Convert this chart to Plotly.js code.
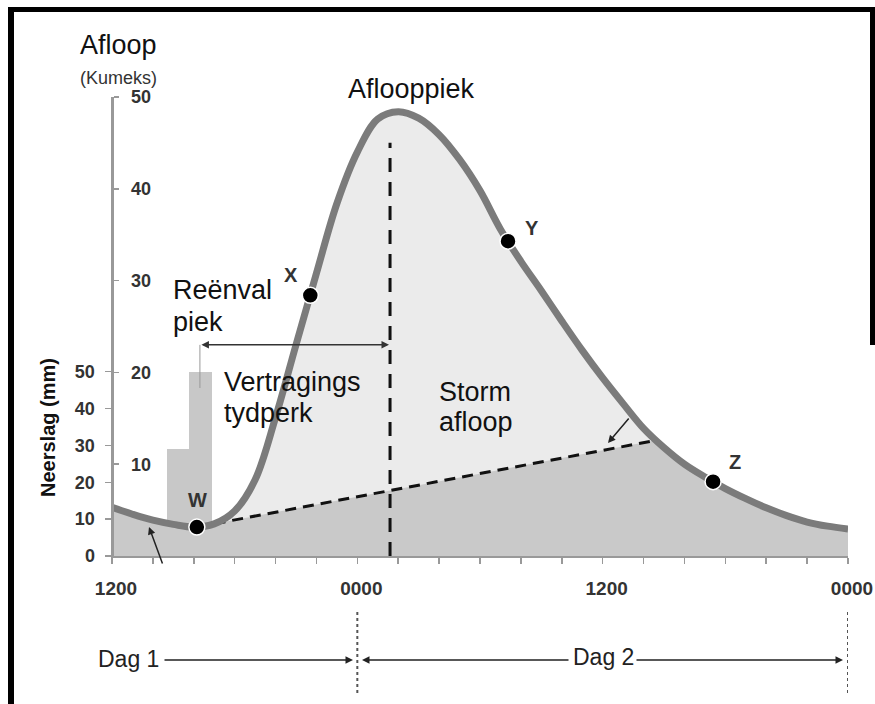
<!DOCTYPE html>
<html>
<head>
<meta charset="utf-8">
<script src="https://cdn.plot.ly/plotly-3.0.1.min.js"></script>
<style>html,body{margin:0;padding:0;background:#fff;}#chart{width:875px;height:704px;}</style>
</head>
<body>
<div id="chart"></div>
<script>
// ---- data (hours after 1200 on day 1; runoff in kumeks, rainfall in mm) ----
const hours = [0, 1, 2, 3, 4, 5, 6, 7, 8, 9, 10, 11, 12, 13, 14, 15, 16, 17, 18,
               19, 20, 21, 22, 23, 24, 25, 26, 27, 28, 29, 30, 31, 32, 33, 34, 35, 36];
const flow  = [5.3, 4.55, 3.9, 3.45, 3.15, 3.5, 4.9, 8.3, 15.1, 23.0, 30.8, 38.4, 44.0, 47.6, 48.4, 47.7, 45.9, 43.2, 39.8,
               35.6, 32.1, 28.9, 25.6, 22.4, 19.4, 16.6, 13.9, 11.8, 10.0, 8.6, 7.35, 6.25, 5.25, 4.4, 3.7, 3.25, 2.95];
const pointNames = ['W', 'X', 'Y', 'Z'];
const pointHours = [4.15, 9.7, 19.37, 29.4];
const pointFlow  = [3.15, 28.4, 34.3, 8.1];
const baseHours = [4.15, 26.6];
const baseFlow  = [3.15, 12.6];
const lagHours  = [4.3, 13.6];      // rainfall peak -> runoff peak
const rainStart = [2.7, 3.75];
const rainEnd   = [3.75, 4.9];
const rainMm    = [29, 50];
const xTickVals = [0, 2, 4, 6, 8, 10, 12, 14, 16, 18, 20, 22, 24, 26, 28, 30, 32, 34, 36];
const xTickText = ['1200', '', '', '', '', '', '0000', '', '', '', '', '', '1200', '', '', '', '', '', '0000'];
const dayBounds = [12, 36];
const flowTicks = [10, 20, 30, 40, 50];
const rainTicks = [0, 10, 20, 30, 40, 50];

// ---- derived ----
const peakFlow = Math.max.apply(null, flow);
const rainMid = rainStart.map((s, i) => (s + rainEnd[i]) / 2);
const rainWidth = rainStart.map((s, i) => rainEnd[i] - s);
const darkX = [], darkY = [];
hours.forEach((h, i) => { if (h < baseHours[0]) { darkX.push(h); darkY.push(flow[i]); } });
baseHours.forEach((h, i) => { darkX.push(h); darkY.push(baseFlow[i]); });
hours.forEach((h, i) => { if (h > baseHours[1]) { darkX.push(h); darkY.push(flow[i]); } });

// ---- geometry helpers (pixels -> paper) ----
const L = 112, T = 97, PW = 736, PH = 459;
const PX = p => (p - L) / PW;
const PY = p => (T + PH - p) / PH;
const FONT = 'Arial, "Liberation Sans", sans-serif';

const traces = [
  { type: 'bar', x: rainMid, y: rainMm, width: rainWidth, yaxis: 'y', xaxis: 'x',
    marker: { color: '#c8c8c8', line: { width: 0 } }, hoverinfo: 'skip' },
  { type: 'scatter', mode: 'lines', x: hours, y: flow, yaxis: 'y2', fill: 'tozeroy',
    fillcolor: '#ebebeb', line: { width: 0, shape: 'spline', smoothing: 1 }, hoverinfo: 'skip' },
  { type: 'scatter', mode: 'lines', x: darkX, y: darkY, yaxis: 'y2', fill: 'tozeroy',
    fillcolor: '#c9c9c9', line: { width: 0 }, hoverinfo: 'skip' },
  { type: 'scatter', mode: 'lines', x: baseHours, y: baseFlow, yaxis: 'y2',
    line: { color: '#111', width: 3, dash: '11px,7px' }, hoverinfo: 'skip' },
  { type: 'scatter', mode: 'lines', x: [lagHours[1], lagHours[1]], y: [0, peakFlow * 0.93], yaxis: 'y2',
    line: { color: '#111', width: 3, dash: '14px,10px' }, hoverinfo: 'skip' },
  { type: 'scatter', mode: 'lines', x: hours, y: flow, yaxis: 'y2',
    line: { color: '#7b7b7b', width: 7, shape: 'spline', smoothing: 1 }, hoverinfo: 'skip' },
  { type: 'scatter', mode: 'markers', x: pointHours, y: pointFlow, yaxis: 'y2', text: pointNames,
    marker: { color: '#000', size: 16, line: { color: '#fff', width: 1.5 } }, hoverinfo: 'skip' }
];

const txt = (text, x, y, size, opts) => Object.assign({
  text: text, x: PX(x), y: PY(y), xref: 'paper', yref: 'paper', showarrow: false,
  xanchor: 'left', yanchor: 'middle', font: { family: FONT, size: size, color: '#111' }
}, opts || {});

const labelPos = { W: [197, 499.5], X: [291, 274.5], Y: [532, 228], Z: [735, 462] };

const annotations = [
  txt('Afloop', 78, 45, 27),
  txt('(Kumeks)', 78, 78, 18, { font: { family: FONT, size: 18, color: '#333' } }),
  txt('Aflooppiek', 346, 89, 27),
  txt('Reënval', 171, 289.5, 27),
  txt('piek', 171, 321.5, 27),
  txt('Vertragings', 222, 381.5, 27),
  txt('tydperk', 222, 412.5, 27),
  txt('Storm', 437, 392, 27),
  txt('afloop', 437, 422, 27),
  txt('Neerslag (mm)', 48, 428, 20, { xanchor: 'center', textangle: -90,
      font: { family: FONT, size: 20, color: '#111', weight: 'bold' } }),
  txt('Dag 1', 96, 658.5, 23, { font: { family: FONT, size: 23, color: '#222' } }),
  txt('Dag 2', 603, 656.5, 23, { xanchor: 'center', font: { family: FONT, size: 23, color: '#222' } }),
  // lag arrow between rain peak and runoff peak
  { xref: 'x', yref: 'y2', axref: 'x', ayref: 'y2', x: lagHours[1] - 0.05, y: 23, ax: lagHours[0], ay: 23,
    text: '', showarrow: true, arrowhead: 2, startarrowhead: 2, arrowside: 'end+start',
    arrowsize: 1, arrowwidth: 1.5, arrowcolor: '#333', standoff: 0, startstandoff: 0 },
  // small arrows
  { xref: 'paper', yref: 'paper', x: PX(149), y: PY(527), ax: 14, ay: 38, text: '', showarrow: true,
    arrowhead: 2, arrowsize: 1, arrowwidth: 1.5, arrowcolor: '#222' },
  { xref: 'paper', yref: 'paper', x: PX(608), y: PY(443), ax: 22, ay: -26, text: '', showarrow: true,
    arrowhead: 2, arrowsize: 1, arrowwidth: 1.5, arrowcolor: '#222' },
  // day arrows
  { xref: 'paper', yref: 'paper', x: PX(353), y: PY(660), ax: -190, ay: 0, text: '', showarrow: true,
    arrowhead: 2, arrowsize: 1, arrowwidth: 1.5, arrowcolor: '#222' },
  { xref: 'paper', yref: 'paper', x: PX(362), y: PY(660), ax: 208, ay: 0, text: '', showarrow: true,
    arrowhead: 2, arrowsize: 1, arrowwidth: 1.5, arrowcolor: '#222' },
  { xref: 'paper', yref: 'paper', x: PX(843), y: PY(660), ax: -208, ay: 0, text: '', showarrow: true,
    arrowhead: 2, arrowsize: 1, arrowwidth: 1.5, arrowcolor: '#222' }
];
pointNames.forEach(n => {
  annotations.push(txt(n, labelPos[n][0], labelPos[n][1], 20,
    { xanchor: 'center', font: { family: FONT, size: 20, color: '#333', weight: 'bold' } }));
});

const shapes = [
  { type: 'line', xref: 'x', yref: 'y2', x0: lagHours[0], x1: lagHours[0], y0: 23, y1: 18.3,
    line: { color: '#999', width: 1 } },
  { type: 'line', xref: 'x', yref: 'paper', x0: dayBounds[0], x1: dayBounds[0], y0: PY(612), y1: PY(693),
    line: { color: '#555', width: 2, dash: 'dot' } },
  { type: 'line', xref: 'x', yref: 'paper', x0: dayBounds[1], x1: dayBounds[1], y0: PY(612), y1: PY(693),
    line: { color: '#555', width: 2, dash: 'dot' } },
  { type: 'line', xref: 'paper', yref: 'paper', x0: PX(11), x1: PX(11), y0: PY(7), y1: PY(712),
    line: { color: '#000', width: 6 } },
  { type: 'line', xref: 'paper', yref: 'paper', x0: PX(8), x1: PX(880), y0: PY(9.5), y1: PY(9.5),
    line: { color: '#000', width: 5 } },
  { type: 'line', xref: 'paper', yref: 'paper', x0: PX(872.5), x1: PX(872.5), y0: PY(7), y1: PY(345),
    line: { color: '#000', width: 5 } }
];

const layout = {
  width: 875, height: 704,
  margin: { l: L, r: 875 - L - PW, t: T, b: 704 - T - PH, pad: 0 },
  paper_bgcolor: '#fff', plot_bgcolor: '#fff',
  showlegend: false, hovermode: false, bargap: 0,
  xaxis: {
    range: [0, 36], tickvals: xTickVals, ticktext: xTickText, showgrid: false, zeroline: false,
    showline: true, linecolor: '#999', linewidth: 1.5, ticks: 'outside', ticklen: 6, tickwidth: 1.5,
    tickcolor: '#999', ticklabelstandoff: 9, ticklabelshift: 4,
    tickfont: { family: FONT, size: 19, color: '#333', weight: 'bold' }
  },
  yaxis: {
    range: [0, 124.5], tickvals: rainTicks, showgrid: false, zeroline: false,
    showline: true, linecolor: '#999', linewidth: 1.5, ticks: 'outside', ticklen: 6, tickwidth: 1.5,
    tickcolor: '#999', ticklabelstandoff: 6,
    tickfont: { family: FONT, size: 18, color: '#333', weight: 'bold' }
  },
  yaxis2: {
    overlaying: 'y', anchor: 'free', position: 0, side: 'right',
    range: [0, 50], tickvals: flowTicks, showgrid: false, zeroline: false,
    showline: true, linecolor: '#999', linewidth: 1.5, ticks: 'outside', ticklen: 5, tickwidth: 1.5,
    tickcolor: '#999', ticklabelstandoff: 9,
    tickfont: { family: FONT, size: 18, color: '#333', weight: 'bold' }
  },
  annotations: annotations,
  shapes: shapes
};

Plotly.newPlot('chart', traces, layout, { staticPlot: true, displayModeBar: false });
</script>
</body>
</html>
